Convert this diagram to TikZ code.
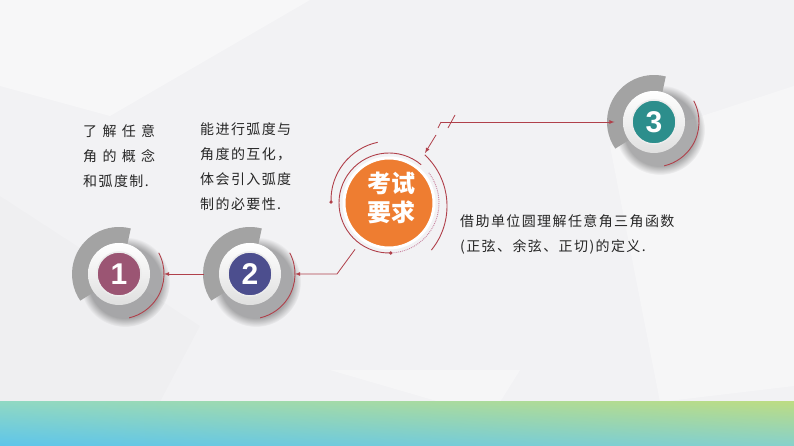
\documentclass[tikz,border=0pt]{standalone}
\usepackage{fontspec}
\newfontfamily\cjk[LetterSpace=10]{Noto Sans CJK SC}
\newfontfamily\cjkplain{Noto Sans CJK SC}
\newfontfamily\numfont{Liberation Sans}
\usetikzlibrary{arrows,positioning,fadings,shadings}

\definecolor{bgC}{HTML}{F2F2F4}
\definecolor{linkC}{HTML}{B0404A}
\definecolor{arcC}{HTML}{A3A3A3}
\definecolor{badgeA}{HTML}{9B5573}
\definecolor{badgeB}{HTML}{4C4E8E}
\definecolor{badgeC}{HTML}{2C8E8C}
\definecolor{coreC}{HTML}{EE7D31}
\definecolor{dotC}{HTML}{C9849F}
\definecolor{txtC}{HTML}{262626}
\definecolor{bandUL}{HTML}{8FD8C4}
\definecolor{bandUR}{HTML}{BCDC84}
\definecolor{bandLL}{HTML}{5EC5EA}
\definecolor{bandLR}{HTML}{86D1CC}

\begin{document}
\begin{tikzpicture}[x=1pt,y=1pt,
badge/.style={circle, minimum size=44pt, inner sep=0pt, outer sep=0pt, draw=white!85!gray, line width=1.5pt, text=white, font=\numfont\bfseries\fontsize{30}{30}\selectfont},
corecirc/.style={circle, minimum size=90pt, inner sep=0pt, outer sep=0pt, fill=coreC, draw=white, line width=3pt},
corelabel/.style={text=white, align=center, font=\cjkplain\bfseries\fontsize{24}{29}\selectfont},
desc/.style={anchor=north west, inner sep=0pt, align=left, text=txtC, font=\cjk\fontsize{14}{25}\selectfont},
link/.style={draw=linkC, line width=0.8pt},
ring/.style={draw=linkC, line width=0.9pt}]
% Background
\useasboundingbox (0,0) rectangle (794,446);
\fill[bgC] (0,0) rectangle (794,446);
\fill[white,opacity=.4] (0,446) -- (310,446) -- (110,330) -- (0,360) -- cycle;
\fill[white,opacity=.35] (330,76) -- (520,76) -- (500,44) -- (440,44) -- cycle;
\fill[white,opacity=.35] (610,300) -- (794,360) -- (794,60) -- (660,44) -- cycle;
\fill[black,opacity=.012] (0,44) -- (0,250) -- (200,120) -- (160,44) -- cycle;
\shade[upper left=bandUL, upper right=bandUR, lower left=bandLL, lower right=bandLR] (0,0) rectangle (794,44);
% Badges
\foreach \x/\y in {119/172,250/172,654/324}{
  \fill[black,opacity=.3,path fading=circle with fuzzy edge 20 percent] (\x+6,\y-8) circle (45);
  \draw[arcC, line width=16pt] (\x,\y) ++(75:39) arc[start angle=75,end angle=215,radius=39];
  \shade[shading angle=45, top color=white, bottom color=gray!25] (\x,\y) circle (31);
}
\node[badge, fill=badgeA] (n1) at (119,172) {1};
\node[badge, fill=badgeB] (n2) at (250,172) {2};
\node[badge, fill=badgeC] (n3) at (654,324) {3};
\draw[ring] (n1.center) ++(28:45) arc[start angle=28,end angle=-77,radius=45];
\draw[ring] (n2.center) ++(28:45) arc[start angle=28,end angle=-77,radius=45];
\draw[ring] (n3.center) ++(28:45) arc[start angle=28,end angle=-77,radius=45];
% Core
\node[corecirc] (core) at (389,243) {};
\node[corelabel] (coreLabel) at (391,248.5) {考试\\要求};
\draw[ring] (core.center) ++(50:50) arc[start angle=50,end angle=272,radius=50];
\draw[dotC, densely dotted, line width=0.9pt] (core.center) ++(272:50) arc[start angle=272,end angle=398,radius=50];
\fill[linkC] (core.center) ++(272:50) circle (1.8);
\draw[ring] (390,246) ++(102:59) arc[start angle=102,end angle=182,radius=59];
\fill[linkC] (390,246) ++(182:59) circle (1.8);
\draw[ring] (377,240) ++(47:70) arc[start angle=47,end angle=-39,radius=70];
% Lines
\coordinate (tA) at (425,293);
\coordinate (tB) at (436,311);
\coordinate (tC) at (438,318);
\coordinate (tD) at (441,324);
\coordinate (lB) at (337,172);
\draw[link, arrows={-latex}] (tB) -- (tA);
\draw[link] (tC) -- (tD);
\draw[link, arrows={-latex}, shorten >=17.5pt] (tD) -- (n3);
\draw[link] (448,318) -- (455,331);
\draw[link, arrows={-latex}, shorten <=12.5pt, shorten >=23pt] (core) -- (lB) -- (n2);
\draw[link, arrows={-latex}, shorten <=24pt, shorten >=23pt] (n2) -- (n1);
% Texts
\node[desc] (goalA) at (83,321.5) {\makebox[72pt][s]{了\hfill 解\hfill 任\hfill 意}\\\makebox[72pt][s]{角\hfill 的\hfill 概\hfill 念}\\和弧度制.};
\node[desc] (goalB) at (200,323.5) {能进行弧度与\\角度的互化，\\体会引入弧度\\制的必要性.};
\node[desc] (goalC) at (460,231.5) {借助单位圆理解任意角三角函数\\(正弦、余弦、正切)的定义.};
\end{tikzpicture}
\end{document}
